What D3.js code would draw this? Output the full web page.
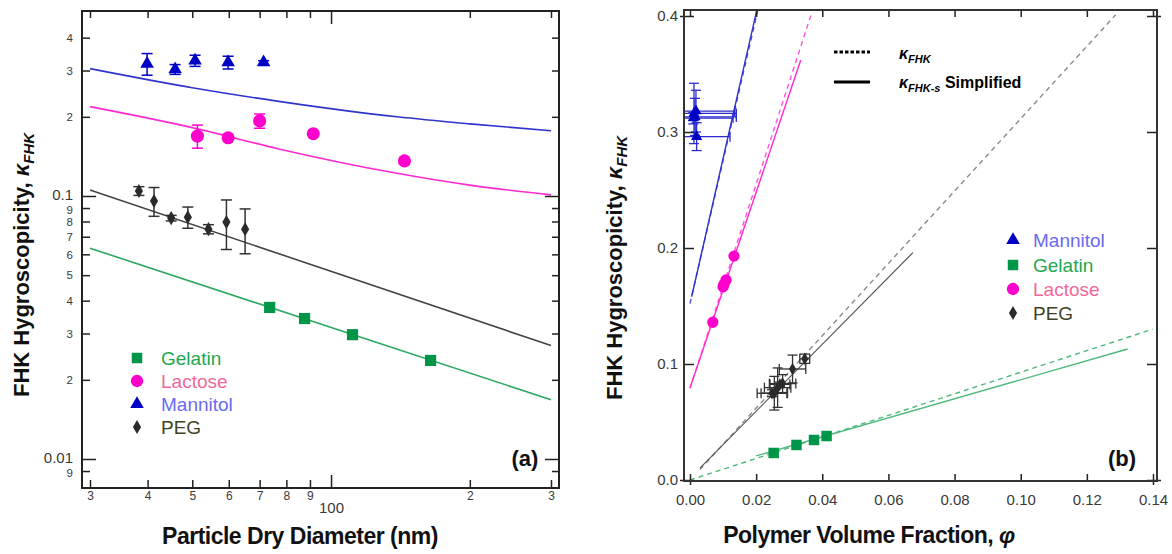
<!DOCTYPE html>
<html><head><meta charset="utf-8">
<script src="https://cdn.jsdelivr.net/npm/d3@7"></script>
<style>
body{margin:0;background:#fff;}
svg{display:block;font-family:"Liberation Sans",Arial,sans-serif;}
</style></head><body>
<svg id="chart" width="1172" height="554"></svg>
<script>
// ---------- Panel (a): kappa vs particle dry diameter ----------
const aDiamTicks = [30,40,50,60,70,80,90,100,200,300];
const aDiamLabels = ["3","4","5","6","7","8","9","100","2","3"];
const aKappaTicks = [0.009,0.01,0.02,0.03,0.04,0.05,0.06,0.07,0.08,0.09,0.1,0.2,0.3,0.4];
const aKappaLabels = ["9","0.01","2","3","4","5","6","7","8","9","0.1","2","3","4"];

const mannitolDiam = [39.9, 45.9, 50.7, 59.8, 71.4];
const mannitolKappa = [0.318, 0.303, 0.327, 0.322, 0.322];
const mannitolErr = [0.030, 0.013, 0.016, 0.018, 0.005];

const lactoseDiam = [51.3, 59.8, 70.0, 91.5, 144.3];
const lactoseKappa = [0.169, 0.1665, 0.193, 0.1725, 0.136];
const lactoseErr = [0.017, 0, 0.012, 0, 0];

const pegDiam = [38.3, 41.3, 45.0, 48.9, 54.2, 59.3, 65.1];
const pegKappa = [0.1045, 0.0957, 0.0824, 0.0831, 0.0748, 0.0796, 0.0748];
const pegErr = [0.004, 0.012, 0.002, 0.0077, 0.003, 0.017, 0.0145];

const gelatinDiam = [73.6, 87.6, 111.3, 164.4];
const gelatinKappa = [0.0377, 0.0342, 0.0297, 0.0237];

const modelDiam = [30, 50, 77, 139, 200, 300];
const mannitolModel = [0.305, 0.258, 0.229, 0.200, 0.188, 0.177];
const lactoseModel = [0.2187, 0.182, 0.151, 0.122, 0.110, 0.101];
const pegModelDiam = [30, 300];
const pegModel = [0.1054, 0.0270];
const gelatinModelDiam = [30, 300];
const gelatinModel = [0.0633, 0.0168];

// ---------- Panel (b): kappa vs polymer volume fraction ----------
const bPhiTicks = [0, 0.02, 0.04, 0.06, 0.08, 0.10, 0.12, 0.14];
const bPhiLabels = ["0.00","0.02","0.04","0.06","0.08","0.10","0.12","0.14"];
const bKappaTicks = [0, 0.1, 0.2, 0.3, 0.4];
const bKappaLabels = ["0.0","0.1","0.2","0.3","0.4"];

const mannitolPhi = [0.0012, 0.0020, 0.0015, 0.0018, 0.0010];
const mannitolPhiErr = [0.0128, 0.0101, 0.0125, 0.0117, 0.0120];
const mannitolKappaB = [0.316, 0.296, 0.313, 0.318, 0.312];
const mannitolKappaErrB = [0.026, 0.012, 0.016, 0.018, 0.005];

const lactosePhi = [0.0103, 0.0100, 0.0133, 0.0109, 0.0069];
const lactoseKappaB = [0.169, 0.1665, 0.193, 0.1725, 0.136];

const pegPhi = [0.0347, 0.0310, 0.0272, 0.0280, 0.0248, 0.0265, 0.0255];
const pegPhiErr = [0.0015, 0.004, 0.003, 0.004, 0.0045, 0.004, 0.004];
const pegKappaB = [0.1045, 0.0957, 0.0824, 0.0831, 0.0748, 0.0796, 0.0748];
const pegKappaErrB = [0.004, 0.012, 0.002, 0.0077, 0.003, 0.017, 0.0145];

const gelatinPhi = [0.0413, 0.0375, 0.0322, 0.0253];
const gelatinKappaB = [0.0379, 0.0345, 0.0302, 0.0233];

const mannitolLinePhi = [0.0, 0.0205], mannitolLineK = [0.152, 0.405];
const mannitolSLinePhi = [0.0005, 0.0202], mannitolSLineK = [0.158, 0.405];
const lactoseLinePhi = [0.0, 0.0366], lactoseLineK = [0.079, 0.401];
const lactoseSLinePhi = [0.0, 0.0335], lactoseSLineK = [0.0793, 0.362];
const pegLinePhi = [0.003, 0.1287], pegLineK = [0.009, 0.401];
const pegSLinePhi = [0.003, 0.0674], pegSLineK = [0.0103, 0.196];
const gelatinLinePhi = [0.0, 0.1399], gelatinLineK = [0.0, 0.130];
const gelatinSLinePhi = [0.020, 0.1323], gelatinSLineK = [0.0208, 0.1129];

const legendNames = ["Gelatin","Lactose","Mannitol","PEG"];
const legendNamesB = ["Mannitol","Gelatin","Lactose","PEG"];

// ---------- styles ----------
const C = {
  mannitol: "#0000c4", mannitolLine: "#2f35cc", mannitolText: "#6a6af2",
  lactose: "#ff00cc", lactoseLine: "#ff2ad0", lactoseText: "#f2679a",
  peg: "#2b2b2b", pegLine: "#444", pegText: "#3f4220",
  gelatin: "#00964a", gelatinLine: "#2aa85e", gelatinText: "#1fa84f"
};
const axisColor = "#222";
const labelColor = "#3a3a3a";

const svg = d3.select("#chart");
svg.append("rect").attr("width",1172).attr("height",554).attr("fill","#fff");
const defs = svg.append("defs");

function sym(type, size){ return d3.symbol().type(type).size(size)(); }

// ===================== Panel (a) =====================
const fa = {l:82, r:559, t:11, b:488};
const xA = d3.scaleLog().domain([30,300]).range([90,551]);
const yA = d3.scaleLog().domain([0.01,0.1]).range([459,196]);
defs.append("clipPath").attr("id","clipA").append("rect")
  .attr("x",fa.l).attr("y",fa.t).attr("width",fa.r-fa.l).attr("height",fa.b-fa.t);

const gA = svg.append("g");
const pA = gA.append("g").attr("clip-path","url(#clipA)");

const lineA = d3.line().x(d=>xA(d[0])).y(d=>yA(d[1]));
function drawModelA(xs, ys, color){
  pA.append("path").datum(xs.map((x,i)=>[x,ys[i]]))
    .attr("d", lineA.curve(d3.curveMonotoneX)).attr("fill","none")
    .attr("stroke",color).attr("stroke-width",1.6);
}
drawModelA(modelDiam, mannitolModel, C.mannitolLine);
drawModelA(modelDiam, lactoseModel, C.lactoseLine);
drawModelA(pegModelDiam, pegModel, C.pegLine);
drawModelA(gelatinModelDiam, gelatinModel, C.gelatinLine);

function errA(xs, ys, es, color){
  xs.forEach((x,i)=>{
    if(!es[i]) return;
    const px = xA(x), y1 = yA(ys[i]-es[i]), y2 = yA(ys[i]+es[i]);
    const g = pA.append("g").attr("stroke",color).attr("stroke-width",1.5);
    g.append("line").attr("x1",px).attr("x2",px).attr("y1",y1).attr("y2",y2);
    g.append("line").attr("x1",px-5.5).attr("x2",px+5.5).attr("y1",y1).attr("y2",y1);
    g.append("line").attr("x1",px-5.5).attr("x2",px+5.5).attr("y1",y2).attr("y2",y2);
  });
}
function ptsA(xs, ys, type, size, color){
  xs.forEach((x,i)=>{
    pA.append("path").attr("d",sym(type,size))
      .attr("transform",`translate(${xA(x)},${yA(ys[i])})`).attr("fill",color);
  });
}
errA(mannitolDiam, mannitolKappa, mannitolErr, C.mannitol);
errA(lactoseDiam, lactoseKappa, lactoseErr, C.lactose);
errA(pegDiam, pegKappa, pegErr, "#333");
ptsA(mannitolDiam, mannitolKappa, d3.symbolTriangle, 80, C.mannitol);
ptsA(lactoseDiam, lactoseKappa, d3.symbolCircle, 135, C.lactose);
ptsA(pegDiam, pegKappa, d3.symbolDiamond, 58, C.peg);
ptsA(gelatinDiam, gelatinKappa, d3.symbolSquare, 125, C.gelatin);

// axes (a)
function styleAxis(g){
  g.select(".domain").remove();
  g.selectAll(".tick line").attr("stroke",axisColor).attr("stroke-width",1.5);
  g.selectAll(".tick text").attr("fill",labelColor).attr("font-family","'Liberation Sans',Arial,sans-serif");
}
const axA_b = gA.append("g").attr("transform",`translate(0,${fa.b})`)
  .call(d3.axisBottom(xA).tickValues(aDiamTicks).tickSize(-8).tickPadding(3.5)
    .tickFormat((d,i)=>aDiamLabels[i]));
styleAxis(axA_b);
axA_b.selectAll(".tick text").attr("font-size",12)
  .filter(d=>d===100).attr("font-size",15).attr("y",14);
axA_b.selectAll(".tick line").filter(d=>d===100).attr("y2",-13);

const axA_t = gA.append("g").attr("transform",`translate(0,${fa.t})`)
  .call(d3.axisTop(xA).tickValues(aDiamTicks).tickSize(-7).tickFormat(""));
styleAxis(axA_t);
axA_t.selectAll(".tick line").filter(d=>d===100).attr("y2",13);

const axA_l = gA.append("g").attr("transform",`translate(${fa.l},0)`)
  .call(d3.axisLeft(yA).tickValues(aKappaTicks).tickSize(-8).tickPadding(9)
    .tickFormat((d,i)=>aKappaLabels[i]));
styleAxis(axA_l);
axA_l.selectAll(".tick text").attr("font-size",11.5);
axA_l.selectAll(".tick text").filter(d=>d===0.1||d===0.01).attr("font-size",15).attr("dy","0.2em");
axA_l.selectAll(".tick text").filter(d=>d===0.09||d===0.009).attr("dy","0.5em");
axA_l.selectAll(".tick line").filter(d=>d===0.1||d===0.01).attr("x2",14);

const axA_r = gA.append("g").attr("transform",`translate(${fa.r},0)`)
  .call(d3.axisRight(yA).tickValues(aKappaTicks).tickSize(-7).tickFormat(""));
styleAxis(axA_r);
axA_r.selectAll(".tick line").filter(d=>d===0.1||d===0.01).attr("x2",-14);

gA.append("rect").attr("x",fa.l).attr("y",fa.t).attr("width",fa.r-fa.l).attr("height",fa.b-fa.t)
  .attr("fill","none").attr("stroke",axisColor).attr("stroke-width",2);

// legend (a)
const legA = [
  {type:d3.symbolSquare, size:110, color:C.gelatin, text:C.gelatinText},
  {type:d3.symbolCircle, size:120, color:C.lactose, text:C.lactoseText},
  {type:d3.symbolTriangle, size:80, color:C.mannitol, text:C.mannitolText},
  {type:d3.symbolDiamond, size:58, color:C.peg, text:C.pegText}
];
const legARows = [358, 381, 404, 427];
legA.forEach((d,i)=>{
  gA.append("path").attr("d",sym(d.type,d.size)).attr("transform",`translate(137,${legARows[i]})`).attr("fill",d.color);
  gA.append("text").attr("x",161).attr("y",legARows[i]+7).attr("font-size",19).attr("fill",d.text).text(legendNames[i]);
});
gA.append("text").attr("x",525).attr("y",466).attr("text-anchor","middle")
  .attr("font-size",22).attr("font-weight","bold").attr("fill","#111").text("(a)");

// titles (a)
gA.append("text").attr("x",300).attr("y",544).attr("text-anchor","middle")
  .attr("font-size",23).attr("font-weight","bold").attr("letter-spacing","-0.5").attr("fill","#111")
  .text("Particle Dry Diameter (nm)");
function yTitle(g, x, y){
  const t = g.append("text").attr("transform",`translate(${x},${y}) rotate(-90)`)
    .attr("text-anchor","middle").attr("font-size",22).attr("font-weight","bold").attr("fill","#111");
  t.append("tspan").text("FHK Hygroscopicity, ");
  t.append("tspan").attr("font-style","italic").text("κ");
  t.append("tspan").attr("font-style","italic").attr("font-size",15).attr("dy",5).text("FHK");
}
yTitle(gA, 29, 265);

// ===================== Panel (b) =====================
const fb = {l:684, r:1157, t:10, b:481};
const xB = d3.scaleLinear().domain([0,0.14]).range([690,1153]);
const yB = d3.scaleLinear().domain([0,0.4]).range([480,16]);
defs.append("clipPath").attr("id","clipB").append("rect")
  .attr("x",fb.l).attr("y",fb.t).attr("width",fb.r-fb.l).attr("height",fb.b-fb.t);
const gB = svg.append("g");
const pB = gB.append("g").attr("clip-path","url(#clipB)");

const lineB = d3.line().x(d=>xB(d[0])).y(d=>yB(d[1]));
function drawLineB(xs, ys, color, dashed, w){
  pB.append("path").datum(xs.map((x,i)=>[x,ys[i]])).attr("d",lineB)
    .attr("fill","none").attr("stroke",color).attr("stroke-width",w||1.4)
    .attr("stroke-dasharray", dashed ? "5,4" : null);
}
drawLineB(gelatinLinePhi, gelatinLineK, "#4cb97a", true);
drawLineB(gelatinSLinePhi, gelatinSLineK, "#4cb97a", false);
drawLineB(pegLinePhi, pegLineK, "#8a8a8a", true);
drawLineB(pegSLinePhi, pegSLineK, "#555", false, 1.2);
drawLineB(lactoseLinePhi, lactoseLineK, "#ff55d8", true);
drawLineB(lactoseSLinePhi, lactoseSLineK, C.lactoseLine, false);
drawLineB(mannitolLinePhi, mannitolLineK, "#4a55d8", true);
drawLineB(mannitolSLinePhi, mannitolSLineK, C.mannitolLine, false);

function errB(xs, ys, xe, ye, color){
  xs.forEach((x,i)=>{
    const g = pB.append("g").attr("stroke",color).attr("stroke-width",1.3);
    const px = xB(x), py = yB(ys[i]);
    if(ye && ye[i]){
      const y1 = yB(ys[i]-ye[i]), y2 = yB(ys[i]+ye[i]);
      g.append("line").attr("x1",px).attr("x2",px).attr("y1",y1).attr("y2",y2);
      g.append("line").attr("x1",px-5).attr("x2",px+5).attr("y1",y1).attr("y2",y1);
      g.append("line").attr("x1",px-5).attr("x2",px+5).attr("y1",y2).attr("y2",y2);
    }
    if(xe && xe[i]){
      const x1 = xB(x-xe[i]), x2 = xB(x+xe[i]);
      g.append("line").attr("x1",x1).attr("x2",x2).attr("y1",py).attr("y2",py);
      g.append("line").attr("x1",x1).attr("x2",x1).attr("y1",py-5).attr("y2",py+5);
      g.append("line").attr("x1",x2).attr("x2",x2).attr("y1",py-5).attr("y2",py+5);
    }
  });
}
function ptsB(xs, ys, type, size, color){
  xs.forEach((x,i)=>{
    pB.append("path").attr("d",sym(type,size))
      .attr("transform",`translate(${xB(x)},${yB(ys[i])})`).attr("fill",color);
  });
}
errB(mannitolPhi, mannitolKappaB, mannitolPhiErr, mannitolKappaErrB, "#2a2ad0");
errB(pegPhi, pegKappaB, pegPhiErr, pegKappaErrB, "#333");
ptsB(mannitolPhi, mannitolKappaB, d3.symbolTriangle, 55, C.mannitol);
ptsB(lactosePhi, lactoseKappaB, d3.symbolCircle, 100, C.lactose);
ptsB(pegPhi, pegKappaB, d3.symbolDiamond, 45, C.peg);
ptsB(gelatinPhi, gelatinKappaB, d3.symbolSquare, 110, C.gelatin);

// axes (b)
const axB_b = gB.append("g").attr("transform",`translate(0,${fb.b})`)
  .call(d3.axisBottom(xB).tickValues(bPhiTicks).tickSize(-7).tickPadding(13)
    .tickFormat((d,i)=>bPhiLabels[i]));
styleAxis(axB_b);
axB_b.selectAll(".tick text").attr("font-size",15);
axB_b.selectAll(".tick line").filter(d=>d===0||d===0.14).attr("y1",4);

const axB_t = gB.append("g").attr("transform",`translate(0,${fb.t})`)
  .call(d3.axisTop(xB).tickValues(bPhiTicks).tickSize(-7).tickFormat(""));
styleAxis(axB_t);

const axB_l = gB.append("g").attr("transform",`translate(${fb.l},0)`)
  .call(d3.axisLeft(yB).tickValues(bKappaTicks).tickSize(-10).tickPadding(6)
    .tickFormat((d,i)=>bKappaLabels[i]));
styleAxis(axB_l);
axB_l.selectAll(".tick text").attr("font-size",15);
axB_l.selectAll(".tick line").filter(d=>d===0||d===0.4).attr("x1",-4);

const axB_r = gB.append("g").attr("transform",`translate(${fb.r},0)`)
  .call(d3.axisRight(yB).tickValues(bKappaTicks).tickSize(-10).tickFormat(""));
styleAxis(axB_r);
axB_r.selectAll(".tick line").filter(d=>d===0||d===0.4).attr("x1",4);

gB.append("rect").attr("x",fb.l).attr("y",fb.t).attr("width",fb.r-fb.l).attr("height",fb.b-fb.t)
  .attr("fill","none").attr("stroke","#333").attr("stroke-width",2);

// line legend (b)
gB.append("line").attr("x1",834).attr("x2",870).attr("y1",52).attr("y2",52)
  .attr("stroke","#000").attr("stroke-width",3).attr("stroke-dasharray","3.5,2");
gB.append("line").attr("x1",834).attr("x2",870).attr("y1",82).attr("y2",82)
  .attr("stroke","#000").attr("stroke-width",3);
const t1 = gB.append("text").attr("x",899).attr("y",59).attr("font-size",16).attr("font-weight","bold").attr("fill","#000");
t1.append("tspan").attr("font-style","italic").text("κ");
t1.append("tspan").attr("font-style","italic").attr("font-size",11).attr("dy",4).text("FHK");
const t2 = gB.append("text").attr("x",899).attr("y",88).attr("font-size",16).attr("font-weight","bold").attr("fill","#000");
t2.append("tspan").attr("font-style","italic").text("κ");
t2.append("tspan").attr("font-style","italic").attr("font-size",11).attr("dy",4).text("FHK-s");
t2.append("tspan").attr("dy",-4).attr("font-size",16).text(" Simplified");

// marker legend (b)
const legB = [
  {type:d3.symbolTriangle, size:80, color:C.mannitol, text:C.mannitolText},
  {type:d3.symbolSquare, size:110, color:C.gelatin, text:C.gelatinText},
  {type:d3.symbolCircle, size:120, color:C.lactose, text:C.lactoseText},
  {type:d3.symbolDiamond, size:58, color:C.peg, text:C.pegText}
];
const legBRows = [240, 265, 289, 313];
legB.forEach((d,i)=>{
  gB.append("path").attr("d",sym(d.type,d.size)).attr("transform",`translate(1013,${legBRows[i]})`).attr("fill",d.color);
  gB.append("text").attr("x",1033).attr("y",legBRows[i]+7).attr("font-size",19).attr("fill",d.text).text(legendNamesB[i]);
});
gB.append("text").attr("x",1122).attr("y",466).attr("text-anchor","middle")
  .attr("font-size",22).attr("font-weight","bold").attr("fill","#111").text("(b)");

// titles (b)
const xtB = gB.append("text").attr("x",869).attr("y",543).attr("text-anchor","middle")
  .attr("font-size",23).attr("font-weight","bold").attr("letter-spacing","-0.5").attr("fill","#111");
xtB.append("tspan").text("Polymer Volume Fraction, ");
xtB.append("tspan").attr("font-style","italic").text("φ");
yTitle(gB, 622, 268);
</script>
</body></html>
